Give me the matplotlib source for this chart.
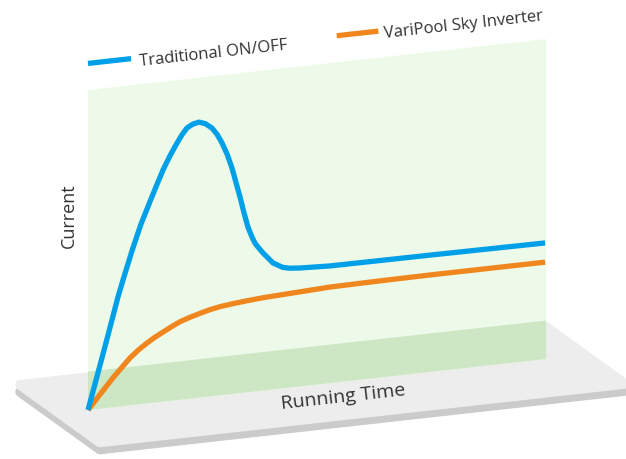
import matplotlib
matplotlib.use("Agg")
import matplotlib.pyplot as plt
from matplotlib.patches import Polygon
from matplotlib.transforms import Affine2D
import numpy as np

# Running time (0..1 across the panel) and current (0..1 up the panel)
time_trad = [0, 0.038, 0.0655, 0.0764, 0.096, 0.115, 0.1354, 0.150, 0.1638, 0.179,
             0.1943, 0.205, 0.2162, 0.229, 0.2424, 0.256, 0.2707, 0.282, 0.2926,
             0.304, 0.3144, 0.323, 0.3319, 0.340, 0.3493, 0.357, 0.3646, 0.3712,
             0.382, 0.393, 0.404, 0.425, 0.44, 0.463, 0.528, 0.747, 0.998]
current_trad = [0, 0.197, 0.343, 0.394, 0.482, 0.560, 0.630, 0.679, 0.724, 0.766,
                0.803, 0.827, 0.847, 0.857, 0.861, 0.854, 0.838, 0.816, 0.788,
                0.750, 0.706, 0.660, 0.613, 0.565, 0.516, 0.487, 0.463, 0.450,
                0.430, 0.4125, 0.395, 0.378, 0.373, 0.370, 0.366, 0.365, 0.363]

time_vari = [0, 0.02, 0.0546, 0.075, 0.0917, 0.11, 0.128, 0.146, 0.164, 0.182, 0.201,
             0.222, 0.2445, 0.266, 0.288, 0.317, 0.3465, 0.383, 0.419, 0.47, 0.528,
             0.64, 0.747, 0.87, 0.998]
current_vari = [0, 0.034, 0.092, 0.123, 0.148, 0.170, 0.188, 0.204, 0.2175, 0.231, 0.244,
                0.254, 0.263, 0.271, 0.277, 0.282, 0.286, 0.290, 0.2925, 0.296, 0.300,
                0.302, 0.303, 0.303, 0.303]

series_names = ["Traditional ON/OFF", "VariPool Sky Inverter"]
series_colors = ["#00a0e9", "#f0861e"]
x_label = "Running Time"
y_label = "Current"

fig = plt.figure(figsize=(6.26, 4.59), dpi=100)
ax = fig.add_axes([88 / 626, 49 / 459, 458 / 626, 320 / 459])
ax.set_xlim(0, 1)
ax.set_ylim(0, 1)
ax.axis("off")

# shear the whole panel so it looks like it stands on the floor in perspective
ox, oy = ax.transData.transform((0, 0))
shear = Affine2D().translate(-ox, -oy).skew(0, np.arctan(51 / 458)).translate(ox, oy)
tr = ax.transData + shear
angle = np.degrees(np.arctan(51 / 458))

# floor (side first, then top), rounded corners from a thick round-joined edge
floor = np.array([[-0.148, 0.102], [0.998, 0.102], [1.172, -0.105], [0.026, -0.105]])
side = floor + [0, -0.022]
for pts, col, z in [(side, "#cbcbcb", 1), (floor, "#ededed", 2)]:
    ax.add_patch(Polygon(pts, closed=True, facecolor=col, edgecolor=col, lw=7.2,
                         joinstyle="round", transform=tr, zorder=z, clip_on=False))

# green back panel and its darker lower strip where it meets the floor
ax.add_patch(Polygon([[0, 0], [1, 0], [1, 1], [0, 1]], closed=True, facecolor="#eefae9",
                     edgecolor="none", transform=tr, zorder=3, clip_on=False))
ax.add_patch(Polygon([[0, 0], [1, 0], [1, 0.12], [0, 0.12]], closed=True, facecolor="#cde6c3",
                     edgecolor="none", transform=tr, zorder=4, clip_on=False))

# the two curves
ax.plot(time_trad, current_trad, color=series_colors[0], lw=3.8, transform=tr,
        solid_joinstyle="round", solid_capstyle="butt", zorder=6, clip_on=False)
ax.plot(time_vari, current_vari, color=series_colors[1], lw=3.8, transform=tr,
        solid_joinstyle="round", solid_capstyle="butt", zorder=5, clip_on=False)

# legend drawn in the same sheared frame
legend_x = [(0, 0.094, 0.1135), (0.543, 0.634, 0.648)]
for (x0, x1, xt), name, col in zip(legend_x, series_names, series_colors):
    ax.plot([x0, x1], [1.083, 1.083], color=col, lw=3.8, transform=tr,
            solid_capstyle="butt", clip_on=False)
    ax.text(xt, 1.058, name, transform=tr, rotation=angle, rotation_mode="anchor",
            ha="left", va="baseline", fontsize=12, color="#333333",
            family="Open Sans", clip_on=False)

ax.text(0.559, -0.065, x_label, transform=tr, rotation=angle, rotation_mode="anchor",
        ha="center", va="baseline", fontsize=14, color="#333333", family="Open Sans",
        clip_on=False, zorder=7)
ax.text(-0.0415, 0.613, y_label, transform=tr, rotation=90, ha="center", va="center",
        fontsize=13, color="#333333", family="Open Sans", clip_on=False)

fig.savefig("out.png", dpi=100)
